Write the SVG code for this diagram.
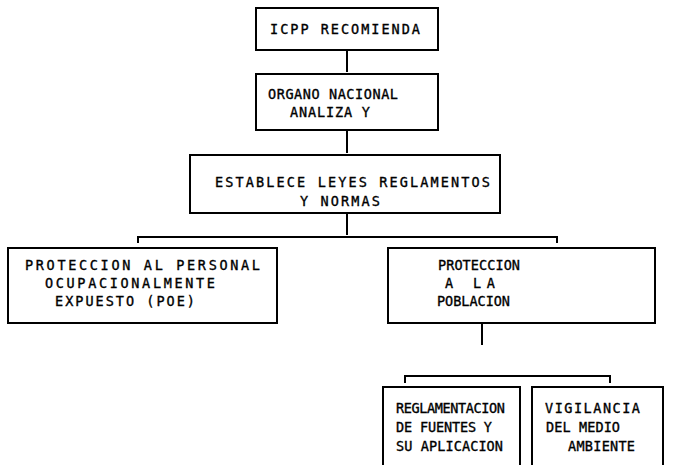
<svg xmlns="http://www.w3.org/2000/svg" width="683" height="465" viewBox="0 0 683 465">
<style>
.box{fill:#fff;stroke:#000;stroke-width:2}
.ln{fill:none;stroke:#000;stroke-width:2}
text{font-family:"DejaVu Sans Mono","Liberation Mono",monospace;font-size:13.5px;fill:#000;stroke:#000;stroke-width:0.35}
</style>
<rect width="683" height="465" fill="#fff"/>
<g id="connectors">
<path class="ln" d="M347 50V72M347 130V153M347 213V235M138 243V237H557V243M482 323V345M405 383V376H610V383"/>
</g>
<g id="n1"><rect class="box" x="256" y="8" width="182" height="42"/><text x="270" y="34" textLength="150" lengthAdjust="spacing">ICPP RECOMIENDA</text></g>
<g id="n2"><rect class="box" x="256" y="74" width="182" height="56"/><text x="268" y="99" textLength="130" lengthAdjust="spacing">ORGANO NACIONAL</text><text x="290" y="117" textLength="80" lengthAdjust="spacing">ANALIZA Y</text></g>
<g id="n3"><rect class="box" x="190" y="155" width="310" height="58"/><text x="215" y="187" textLength="275" lengthAdjust="spacing">ESTABLECE LEYES REGLAMENTOS</text><text x="300" y="206" textLength="80" lengthAdjust="spacing">Y NORMAS</text></g>
<g id="n4"><rect class="box" x="8" y="248" width="269" height="75"/><text x="25" y="270" textLength="235" lengthAdjust="spacing">PROTECCION AL PERSONAL</text><text x="45" y="288" textLength="170" lengthAdjust="spacing">OCUPACIONALMENTE</text><text x="55" y="306" textLength="140" lengthAdjust="spacing">EXPUESTO (POE)</text></g>
<g id="n5"><rect class="box" x="388" y="248" width="267" height="75"/><text x="438" y="270" textLength="82" lengthAdjust="spacing">PROTECCION</text><text x="445" y="288" textLength="50" lengthAdjust="spacing">A  LA</text><text x="437" y="306" textLength="73" lengthAdjust="spacing">POBLACION</text></g>
<g id="n6"><rect class="box" x="383" y="387" width="137" height="90"/><text x="396" y="413" textLength="109" lengthAdjust="spacing">REGLAMENTACION</text><text x="396" y="432" textLength="96" lengthAdjust="spacing">DE FUENTES Y</text><text x="396" y="451" textLength="107" lengthAdjust="spacing">SU APLICACION</text></g>
<g id="n7"><rect class="box" x="532" y="387" width="131" height="90"/><text x="545" y="413" textLength="95" lengthAdjust="spacing">VIGILANCIA</text><text x="546" y="432" textLength="74" lengthAdjust="spacing">DEL MEDIO</text><text x="568" y="451" textLength="67" lengthAdjust="spacing">AMBIENTE</text></g>
</svg>
